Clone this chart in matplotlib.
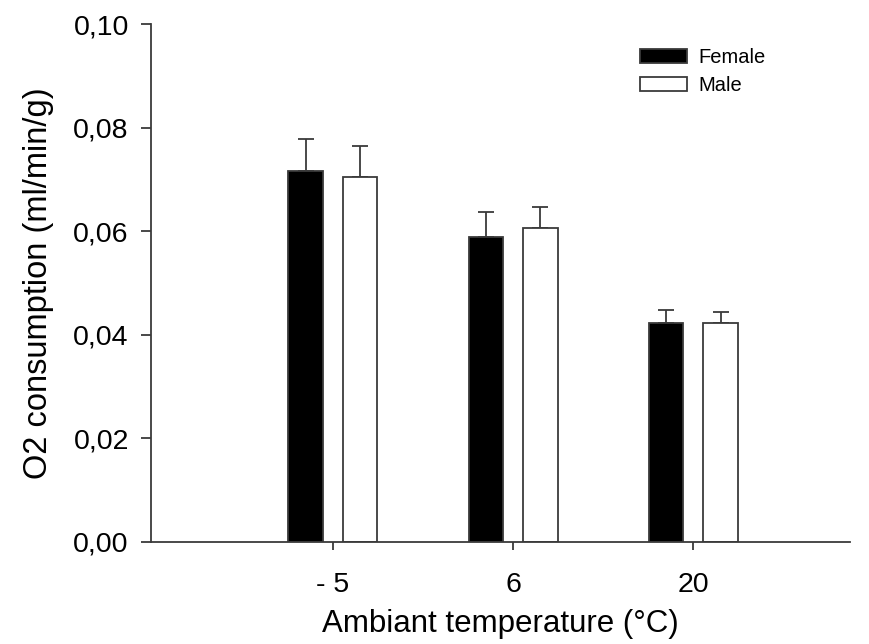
import numpy as np
import matplotlib
matplotlib.use("Agg")
import matplotlib.pyplot as plt
from matplotlib.ticker import FuncFormatter

# data
temps = ["- 5", "6", "20"]
female = [0.0717, 0.0589, 0.0423]
female_se = [0.0061, 0.0047, 0.0024]
male = [0.0705, 0.0606, 0.0422]
male_se = [0.0059, 0.0041, 0.0022]

plt.rcParams['font.family'] = ['Liberation Sans', 'DejaVu Sans']
edge = '#3a3a3a'

fig = plt.figure(figsize=(8.69, 6.44), dpi=100)
ax = fig.add_axes([0.1738, 0.1588, 0.8042, 0.8039])

ind = np.arange(len(temps))
width = 0.19
off = 0.152

ax.bar(ind - off, female, width, color='black', edgecolor=edge, linewidth=1.3, label='Female', zorder=2)
ax.bar(ind + off, male, width, color='white', edgecolor=edge, linewidth=1.3, label='Male', zorder=2)
# one-sided error bars (upwards only)
ax.errorbar(ind - off, female, yerr=[np.zeros(3), female_se], fmt='none', ecolor=edge,
            elinewidth=1.3, capsize=5.8, capthick=1.3, zorder=1)
ax.errorbar(ind + off, male, yerr=[np.zeros(3), male_se], fmt='none', ecolor=edge,
            elinewidth=1.3, capsize=5.8, capthick=1.3, zorder=1)

ax.set_xlim(-1.01, 2.87)
ax.set_ylim(0, 0.10)
ax.set_xticks(ind)
ax.set_xticklabels(temps)
ax.set_yticks(np.arange(0, 0.101, 0.02))
ax.yaxis.set_major_formatter(FuncFormatter(lambda v, p: f"{v:.2f}".replace('.', ',')))

for s in ['top', 'right']:
    ax.spines[s].set_visible(False)
for s in ['left', 'bottom']:
    ax.spines[s].set_color(edge)
    ax.spines[s].set_linewidth(1.3)
ax.tick_params(axis='both', direction='out', length=6, width=1.3, color=edge,
               labelsize=20.5)
ax.tick_params(axis='x', pad=16)
ax.tick_params(axis='y', length=7, pad=9)

ax.set_xlabel("Ambiant temperature (°C)", fontsize=22.5, labelpad=8)
ax.set_ylabel("O2 consumption (ml/min/g)", fontsize=23.5, labelpad=14)

leg = ax.legend(loc='upper left', bbox_to_anchor=(640 / 869, 1 - 48 / 644),
                bbox_transform=fig.transFigure, frameon=False, fontsize=14.5,
                handlelength=2.35, handleheight=0.76, handletextpad=0.55,
                labelspacing=0.45, borderpad=0, borderaxespad=0)
for h in leg.legend_handles:
    h.set_edgecolor(edge)

fig.savefig("out.png", dpi=100)
